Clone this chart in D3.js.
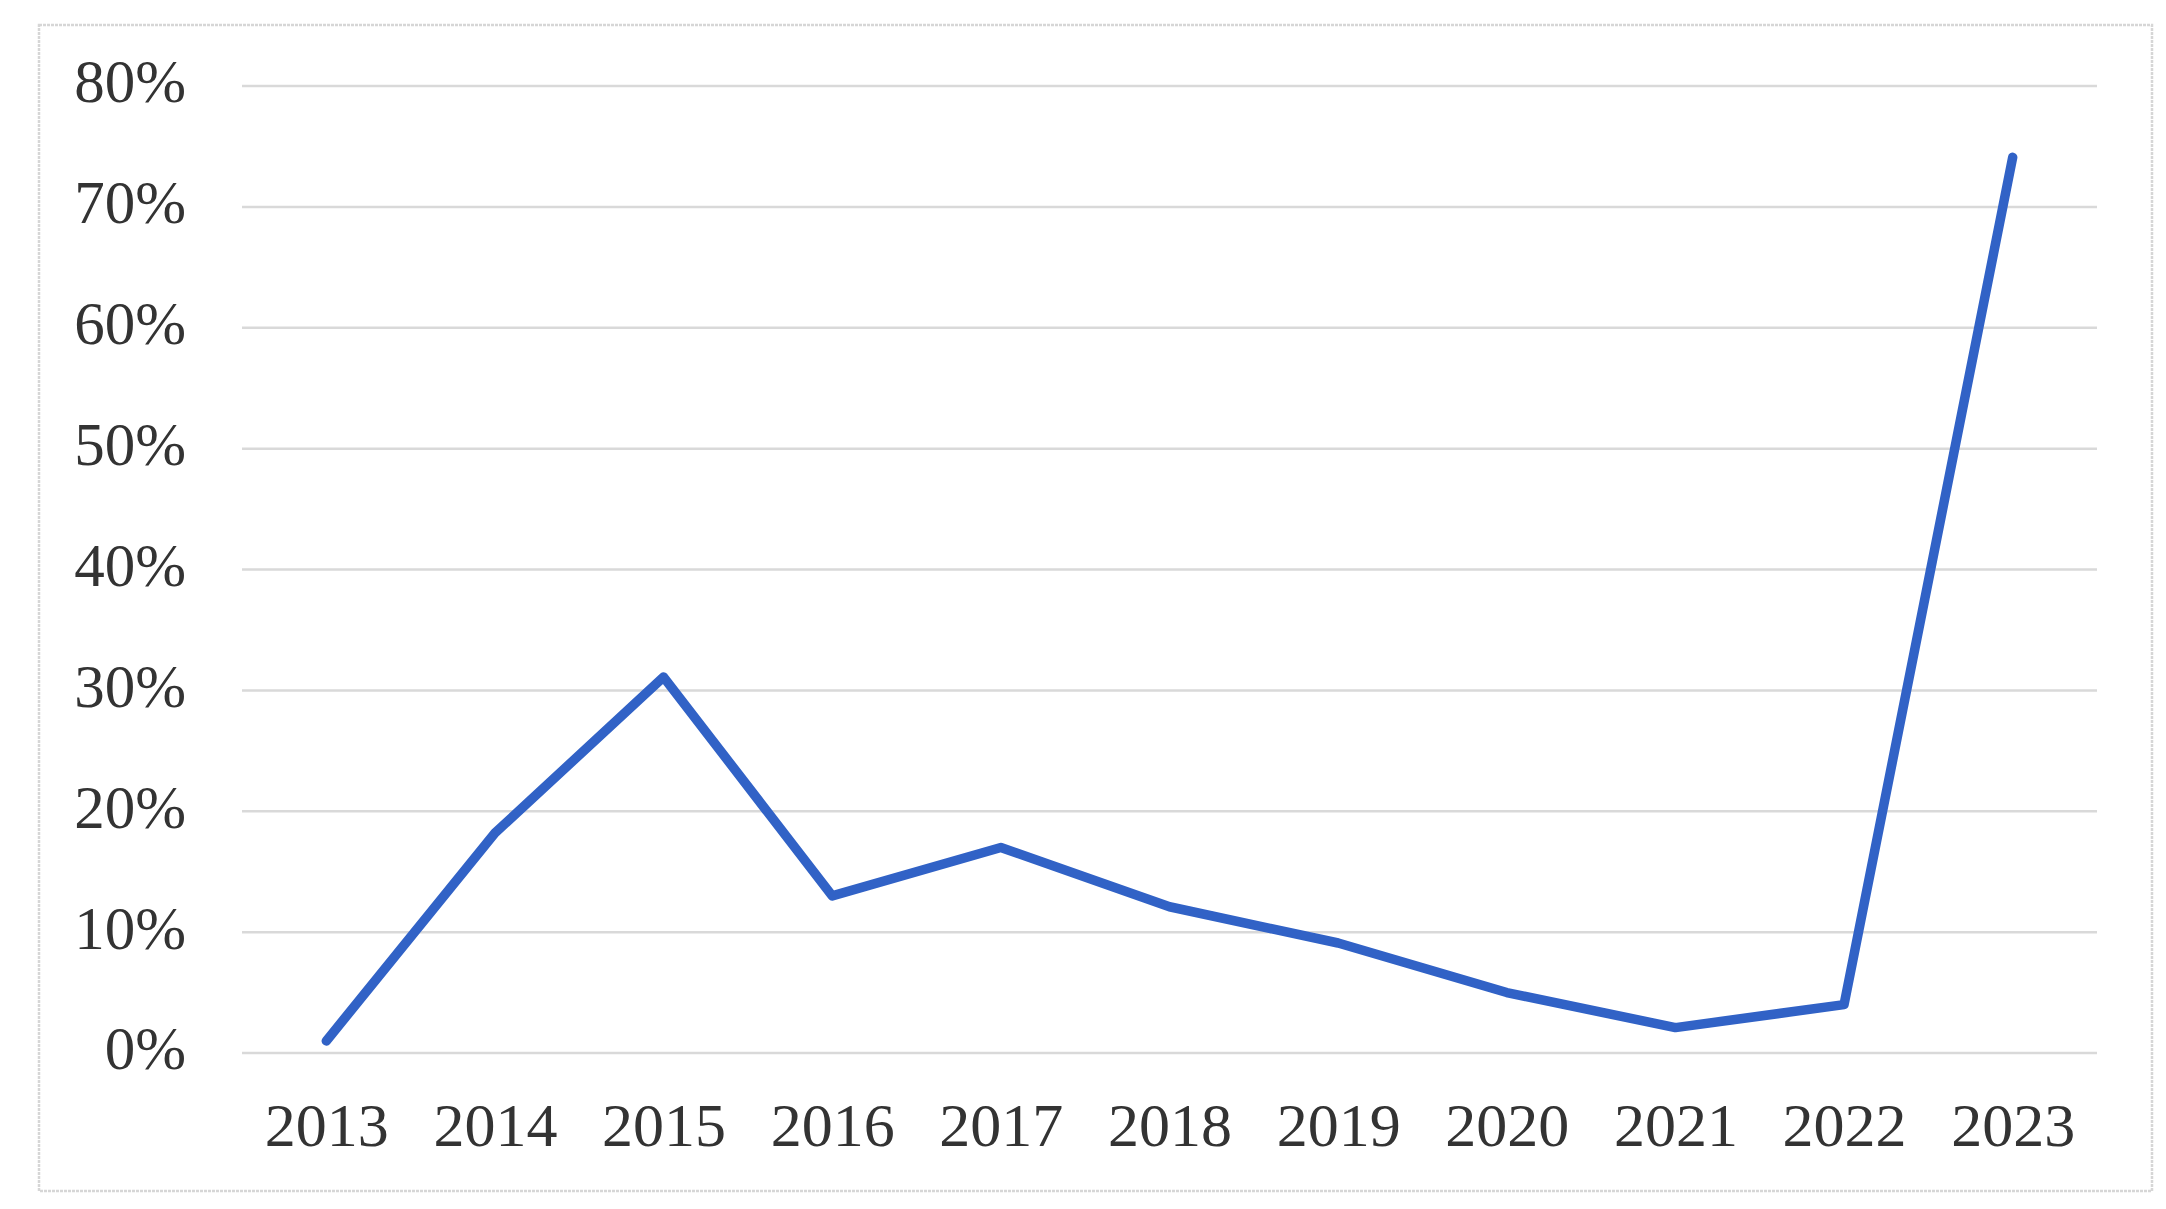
<!DOCTYPE html>
<html>
<head>
<meta charset="utf-8">
<script src="https://cdn.jsdelivr.net/npm/d3@7"></script>
<style>
html,body{margin:0;padding:0;background:#fff;}
svg{display:block;}
</style>
</head>
<body>
<script>
const years = ["2013","2014","2015","2016","2017","2018","2019","2020","2021","2022","2023"];
const values = [0.010, 0.182, 0.311, 0.130, 0.170, 0.121, 0.091, 0.050, 0.021, 0.040, 0.741];
const yTicks = [0, 0.1, 0.2, 0.3, 0.4, 0.5, 0.6, 0.7, 0.8];

(function () {
const W = 2166, H = 1209;
const svg = d3.select("body").append("svg").attr("width", W).attr("height", H);

// outer frame
svg.append("rect")
  .attr("x", 39).attr("y", 25).attr("width", 2152 - 39).attr("height", 1191 - 25)
  .attr("fill", "#fff").attr("stroke", "#d6d6d6").attr("stroke-width", 2.5)
  .attr("stroke-dasharray", "3,1");

const pLeft = 242, pRight = 2097, pTop = 86, pBottom = 1053;
const x = d3.scalePoint().domain(years).range([pLeft, pRight]).padding(0.5);
const y = d3.scaleLinear().domain([0, 0.8]).range([pBottom, pTop]);

// gridlines
svg.append("g").selectAll("line").data(yTicks).join("line")
  .attr("x1", pLeft).attr("x2", pRight)
  .attr("y1", d => y(d)).attr("y2", d => y(d))
  .attr("stroke", "#d9d9d9").attr("stroke-width", 2.5);

// y axis labels
const yAxis = d3.axisLeft(y).tickValues(yTicks).tickFormat(d3.format(".0%")).tickSize(0).tickPadding(0);
const gy = svg.append("g").attr("transform", "translate(186,0)").call(yAxis);
gy.select(".domain").remove();
gy.selectAll("text")
  .attr("font-family", "'Liberation Serif','Times New Roman',serif")
  .attr("font-size", 61).attr("fill", "#333").attr("dy", "0.26em");

// x axis labels
const xAxis = d3.axisBottom(x).tickSize(0).tickPadding(0);
const gx = svg.append("g").attr("transform", "translate(0,1146)").call(xAxis);
gx.select(".domain").remove();
gx.selectAll("text")
  .attr("font-family", "'Liberation Serif','Times New Roman',serif")
  .attr("font-size", 62).attr("fill", "#333").attr("dy", "0").attr("y", 0);

// line
const line = d3.line().x((d, i) => x(years[i])).y(d => y(d));
svg.append("path").datum(values)
  .attr("d", line)
  .attr("fill", "none").attr("stroke", "#3162c6").attr("stroke-width", 9.5)
  .attr("stroke-linejoin", "round").attr("stroke-linecap", "round");
})();
</script>
</body>
</html>
